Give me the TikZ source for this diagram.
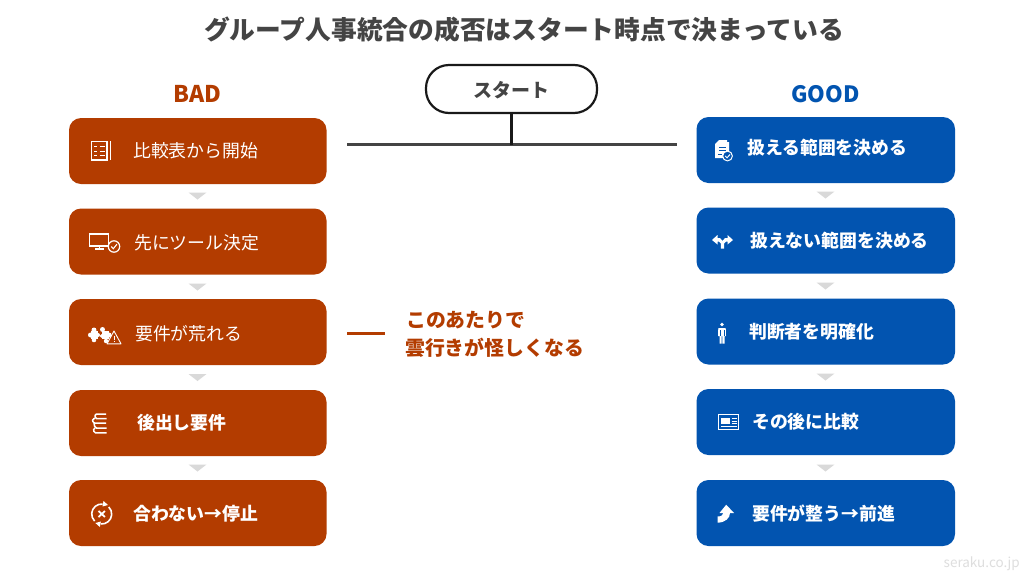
\documentclass[tikz,border=0pt]{standalone}
\usepackage{fontspec}
\setmainfont{Noto Sans CJK JP}
\usetikzlibrary{arrows.meta}
\definecolor{badc}{HTML}{B33C00}
\definecolor{goodc}{HTML}{0254B0}
\definecolor{ink}{HTML}{444444}
\definecolor{tri}{HTML}{D9D9D9}
\tikzset{
 badbox/.style={fill=badc,draw=none,rounded corners=12pt},
 goodbox/.style={fill=goodc,draw=none,rounded corners=12pt},
 lab/.style={anchor=west,inner sep=0pt,text=white,font=\fontsize{17.85pt}{20pt}\selectfont,text height=13pt,text depth=3pt},
 labb/.style={lab,font=\fontsize{17.85pt}{20pt}\selectfont\bfseries},
 head/.style={inner sep=0pt,font=\fontsize{23pt}{26pt}\selectfont\bfseries},
 notetext/.style={anchor=west,inner sep=0pt,text=badc,font=\fontsize{19.85pt}{22pt}\selectfont\bfseries},
 tribox/.style={fill=tri,draw=none},
 ico/.style={draw=white,line width=1.2pt,fill=none},
 icof/.style={fill=white,draw=none},
}
\newcommand{\flowtri}[2]{\fill[tribox] (#1-9,#2) -- (#1+9,#2) -- (#1,#2+7) -- cycle;}
\begin{document}
\begin{tikzpicture}[x=1pt,y=-1pt]
\useasboundingbox (0,0) rectangle (1024,576);
\fill[white] (0,0) rectangle (1024,576);
% title
\node[inner sep=0pt,text=ink,font=\fontsize{25.75pt}{28pt}\selectfont\bfseries] (title) at (524,29.5) {グループ人事統合の成否はスタート時点で決まっている};
\node[head,text=badc] (bad) at (197.5,94) {BAD};
\node[head,text=goodc,font=\fontsize{22.5pt}{26pt}\selectfont\bfseries] (good) at (825.5,94) {GOOD};
% start
\node[draw=black!90,line width=2.2pt,fill=white,rounded corners=23pt,minimum width=171pt,minimum height=48pt,inner sep=0pt,text=ink,text height=18pt,text depth=2pt,font=\fontsize{19pt}{20pt}\selectfont\bfseries] (start) at (511.5,89) {スタート};
\coordinate (barl) at (347,144.5);
\coordinate (barr) at (677,144.5);
\coordinate (barm) at (511.5,144.5);
\draw[ink,line width=2.6pt] (barl) -- (barr);
\draw[black!90,line width=2.4pt] (start.south) -- (barm);
% boxes left
\fill[badbox] (69,118) rectangle (326.5,184);
\fill[badbox] (69,208.5) rectangle (326.5,274.5);
\fill[badbox] (69,299) rectangle (326.5,365);
\fill[badbox] (69,390) rectangle (326.5,456);
\fill[badbox] (69,480) rectangle (326.5,546);
% boxes right
\fill[goodbox] (696.5,117) rectangle (955,183);
\fill[goodbox] (696.5,207.5) rectangle (955,273.5);
\fill[goodbox] (696.5,298.5) rectangle (955,364.5);
\fill[goodbox] (696.5,389) rectangle (955,455);
\fill[goodbox] (696.5,480) rectangle (955,546);
% triangles
\flowtri{197.5}{192.5}\flowtri{197.5}{283.5}\flowtri{197.5}{374}\flowtri{197.5}{464.5}
\flowtri{825.5}{191.5}\flowtri{825.5}{282.5}\flowtri{825.5}{373.5}\flowtri{825.5}{464.5}
% labels
\node[lab] (l1) at (133,152.5) {比較表から開始};
\node[lab] (l2) at (134,244) {先にツール決定};
\node[lab] (l3) at (135,335) {要件が荒れる};
\node[labb] (l4) at (137,424.5) {後出し要件};
\node[labb] (l5) at (133,515) {合わない→停止};
\node[labb] (r1) at (747,149) {扱える範囲を決める};
\node[labb] (r2) at (750,242) {扱えない範囲を決める};
\node[labb] (r3) at (749,333) {判断者を明確化};
\node[labb] (r4) at (752,423.5) {その後に比較};
\node[labb] (r5) at (752,515) {要件が整う→前進};
% middle note
\coordinate (notel) at (347,333);
\coordinate (noter) at (385,333);
\draw[badc,line width=3pt] (notel) -- (noter);
\node[notetext] (n1) at (406,320) {このあたりで};
\node[notetext] (n2) at (405,348) {雲行きが怪しくなる};
% watermark
\node[anchor=east,inner sep=0pt,text=black!13,font=\fontsize{13.5pt}{15pt}\selectfont] (wm) at (1020,564) {seraku.co.jp};
% icon: checklist
\draw[ico,line width=1.4pt] (91.5,141.5) rectangle (107,160);
\draw[ico,line width=1.6pt] (110.5,141) -- (110.5,160);
\foreach \y in {146.5,151,155.5}{\draw[white,line width=1pt] (94,\y) -- (97,\y); \draw[white,line width=1pt] (99.5,\y) -- (104.5,\y);}
% icon: monitor + check
\draw[ico] (89.5,234) rectangle (108.5,246);
\draw[white,line width=1.1pt] (95,249) -- (104,249);
\draw[white,line width=1pt] (99.5,246) -- (99.5,249);
\draw[ico,fill=badc] (114,246.5) circle (5.7);
\draw[white,line width=1.1pt] (111.3,246.5) -- (113.3,248.7) -- (116.9,244.3);
% icon: puzzle + warning
\fill[icof] (91,331) rectangle (98,339);
\fill[icof] (90.5,335) circle (2.5) (94,330) circle (2.5) (98,335) circle (2) (94,340) circle (2.3);
\fill[icof] (102,331) rectangle (109,339);
\fill[icof] (102.5,329.5) circle (2.5) (109,335) circle (2.5) (106,341) circle (2.2) (101.5,336) circle (1.8);
\draw[white,fill=badc,line width=.9pt,line join=round] (114,331) -- (121,343.8) -- (107,343.8) -- cycle;
\draw[white,line width=.9pt] (114,335.5) -- (114,339.5) (114,340.8) -- (114,341.8);
% icon: books
\draw[white,line width=1.5pt,rounded corners=1.5pt] (106,414) -- (95,414) -- (95,418.5) -- (106.5,418.5);
\draw[white,line width=1.5pt,rounded corners=1.5pt] (106,423) -- (93,423) -- (92.5,418.5) -- (95,418.5);
\draw[white,line width=1.5pt,rounded corners=1.5pt] (106.5,428) -- (95,428) -- (94,423);
\draw[white,line width=1.5pt,rounded corners=1.5pt] (106.5,432.8) -- (94,432.8) -- (93.5,428) -- (95,428);
% icon: cycle x
\draw[white,line width=1.6pt] (101.7,514) ++(-85:10) arc[start angle=-85,end angle=-225,radius=10];
\draw[white,line width=1.6pt] (101.7,514) ++(-265:10) arc[start angle=-265,end angle=-405,radius=10];
\fill[icof] (103.5,501) -- (108,505) -- (102.5,506.5) -- cycle;
\fill[icof] (99.9,527) -- (95.4,523) -- (100.9,521.5) -- cycle;
\draw[white,line width=1.8pt] (98.5,511) -- (104.9,517) (104.9,511) -- (98.5,517);
% icon: doc + check
\fill[icof] (719,140) -- (727,140) -- (727,142) -- (729,142) -- (729,158) -- (715,158) -- (715,144) -- cycle;
\draw[goodc,line width=1pt] (719,147.5) -- (726,147.5) (719,150.5) -- (726,150.5) (718,154) -- (722,154);
\draw[white,fill=goodc,line width=1pt] (727.5,156) circle (4.9);
\draw[white,line width=1pt] (725.2,156) -- (727,157.8) -- (730.1,154.4);
% icon: split arrow
\fill[icof] (712,240) -- (717.5,235) -- (717.5,238) -- (720,238) -- (722.5,241) -- (725,238) -- (727.5,238) -- (727.5,235) -- (733,240) -- (727.5,244.5) -- (727.5,241.5) -- (726,241.5) -- (724.2,243.5) -- (724.2,248.5) -- (720.8,248.5) -- (720.8,243.5) -- (719,241.5) -- (717.5,241.5) -- (717.5,244.5) -- cycle;
% icon: person
\fill[icof] (722,324.5) circle (1.9);
\fill[icof] (718.3,328) -- (725.7,328) -- (726,336) -- (724.6,336) -- (724.6,343.5) -- (722.4,343.5) -- (722.4,336) -- (721.6,336) -- (721.6,343.5) -- (719.6,343.5) -- (719.6,336) -- (718,336) -- cycle;
\draw[goodc,line width=.5pt] (720,330) -- (720,336) (724,330) -- (724,336);
% icon: news card
\draw[white,line width=1.2pt] (718.3,414.5) rectangle (738.7,429.5);
\fill[icof] (721,418) rectangle (730,424);
\draw[white,line width=.8pt] (731.5,418.5) -- (736.5,418.5) (731.5,421) -- (736.5,421) (731.5,423.5) -- (736.5,423.5) (721,426.7) -- (736.5,426.7);
% icon: up arrow
\fill[icof] (726.2,504.7) -- (734,513) -- (730,513) .. controls (730,518) and (725.5,522.5) .. (717.5,522.7) -- (717.5,516.5) .. controls (721,516.5) and (723.3,515) .. (723.5,513) -- (719.5,513) -- cycle;
\end{tikzpicture}
\end{document}
